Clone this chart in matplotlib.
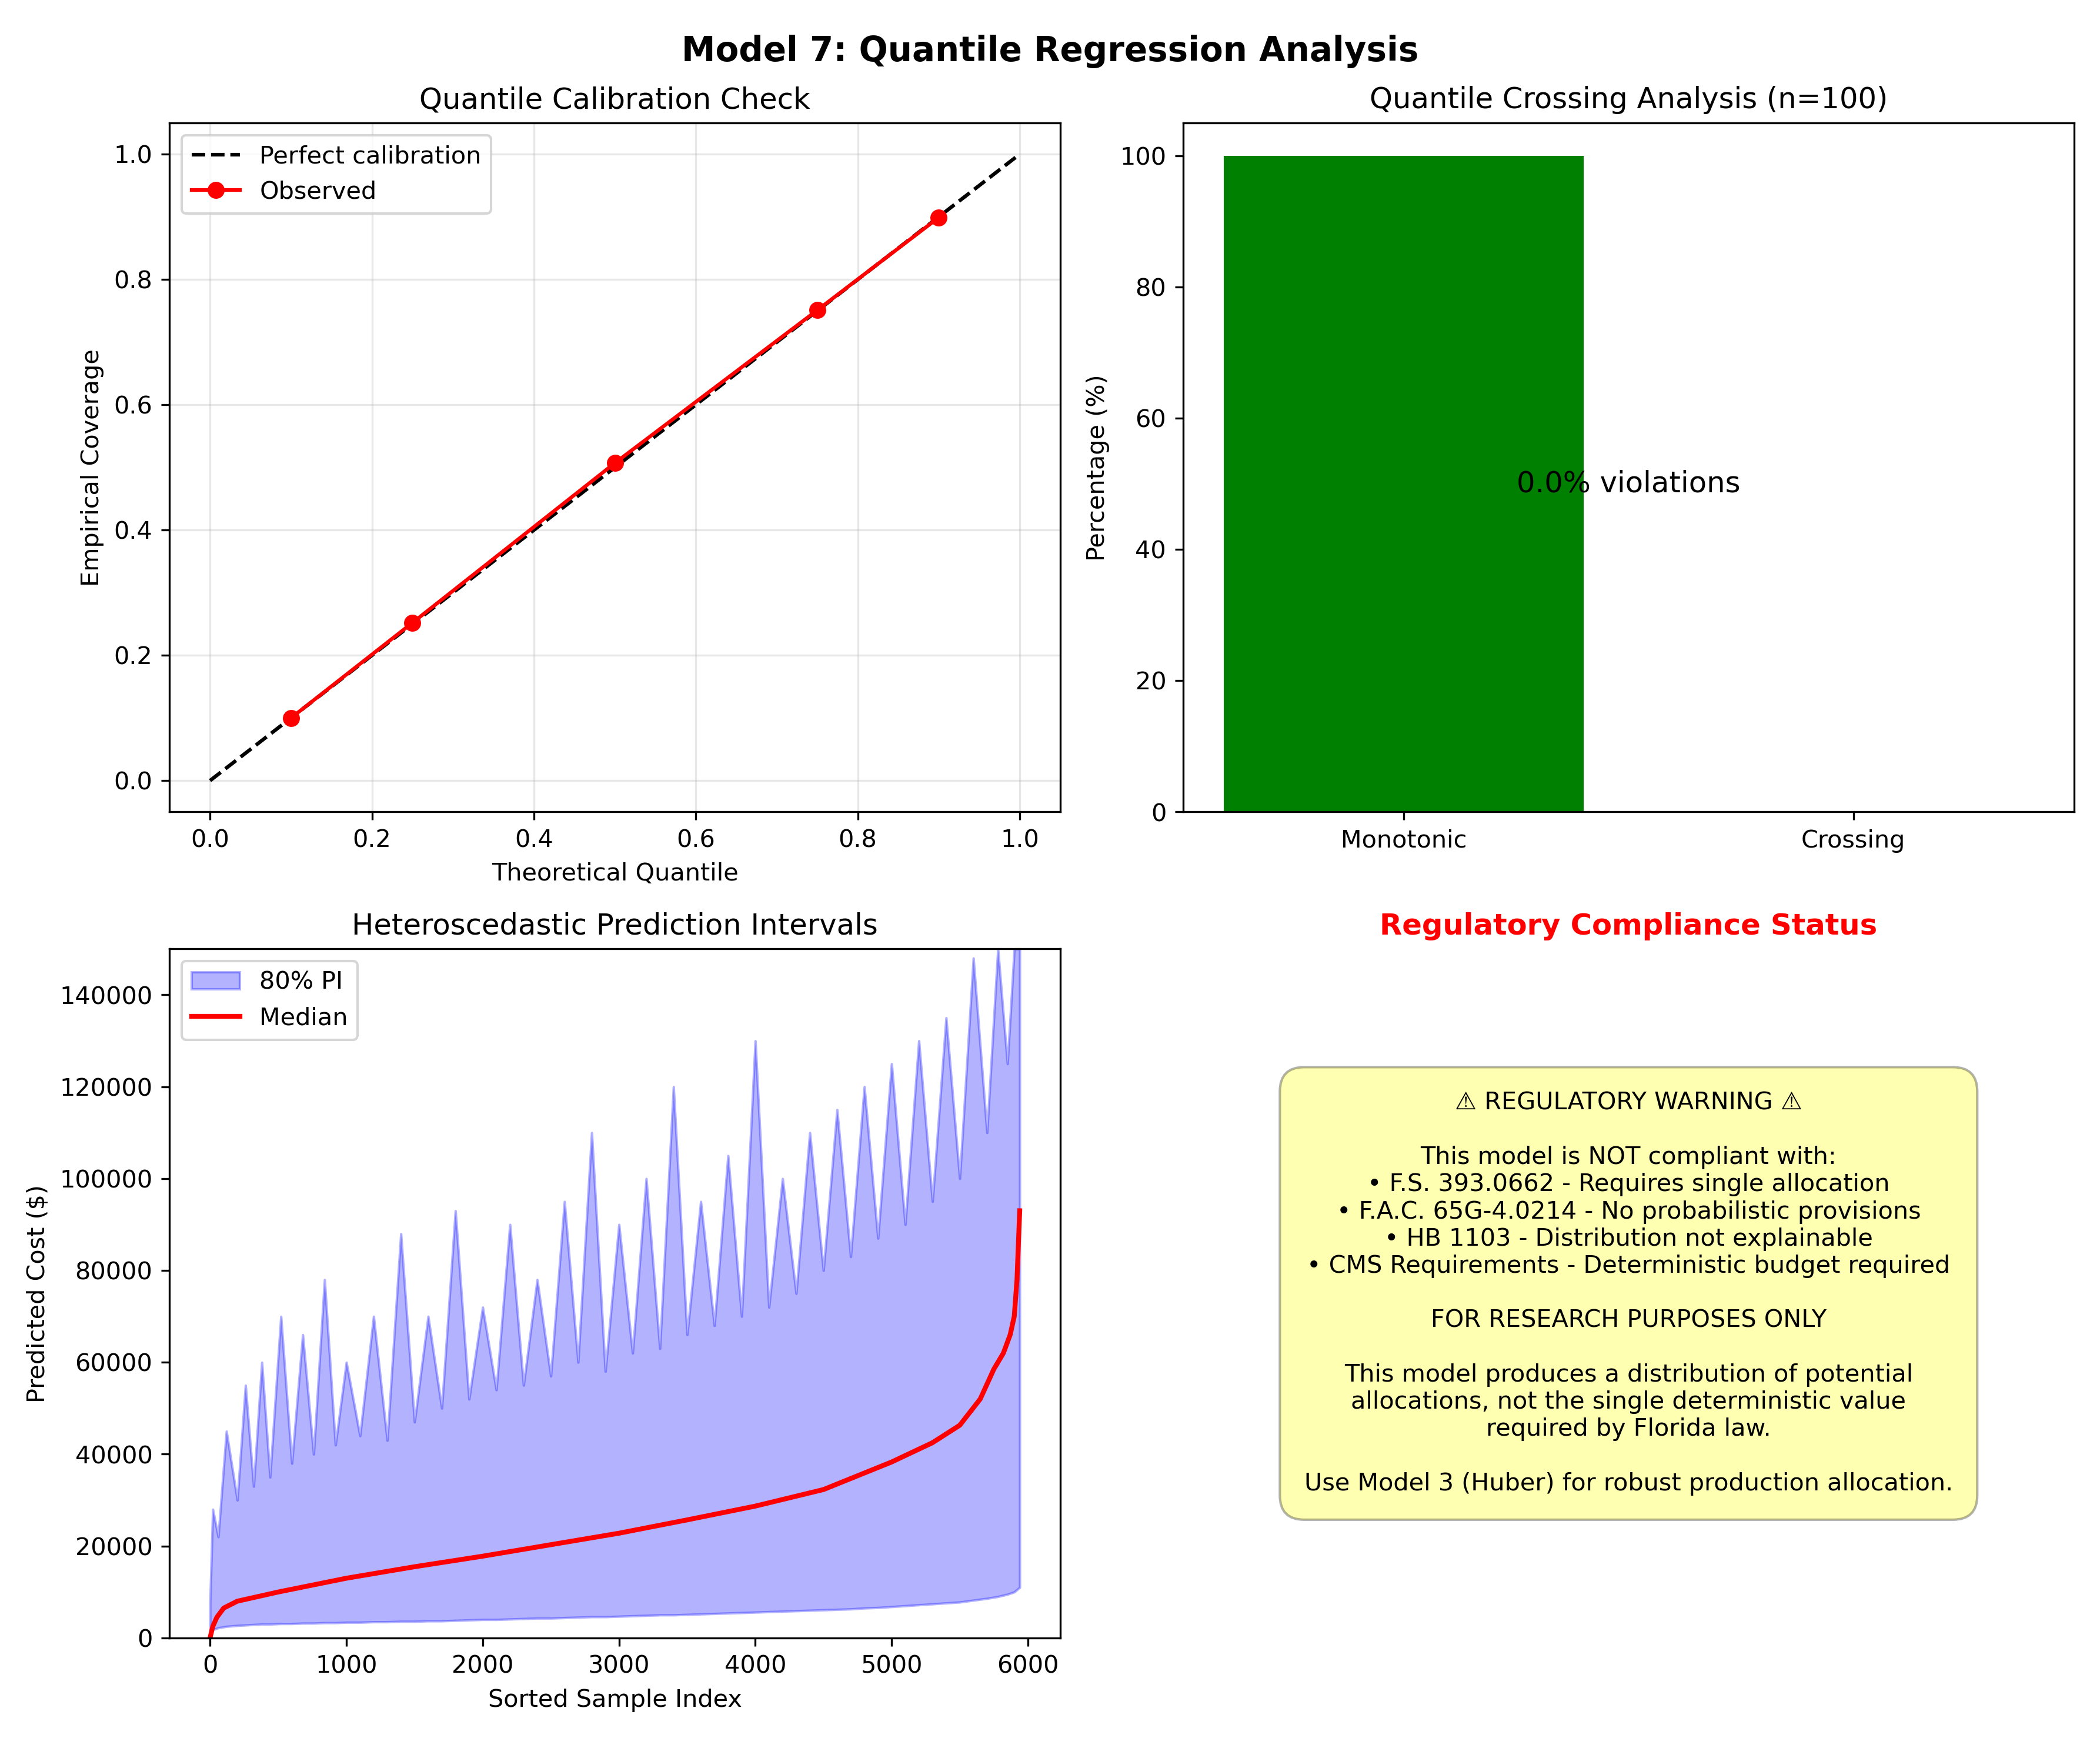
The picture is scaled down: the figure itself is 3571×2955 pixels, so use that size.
import matplotlib
matplotlib.use("Agg")
import matplotlib.pyplot as plt
import numpy as np

quantiles = [0.1, 0.25, 0.5, 0.75, 0.9]
coverage = [0.10, 0.252, 0.507, 0.751, 0.899]

cross_labels = ["Monotonic", "Crossing"]
cross_vals = [100.0, 0.0]

pi_idx = [0, 20, 60, 120, 200, 260, 320, 380, 440, 520, 600, 680, 760, 840, 920, 1000, 1100, 1200, 1300,
          1400, 1500, 1600, 1700, 1800, 1900, 2000, 2100, 2200, 2300, 2400, 2500, 2600, 2700, 2800, 2900,
          3000, 3100, 3200, 3300, 3400, 3500, 3600, 3700, 3800, 3900, 4000, 4100, 4200, 4300, 4400, 4500,
          4600, 4700, 4800, 4900, 5000, 5100, 5200, 5300, 5400, 5500, 5600, 5700, 5780, 5850, 5900, 5940]
pi_upper = [8000, 28000, 22000, 45000, 30000, 55000, 33000, 60000, 35000, 70000, 38000, 66000, 40000, 78000,
            42000, 60000, 44000, 70000, 43000, 88000, 47000, 70000, 50000, 93000, 52000, 72000, 54000, 90000,
            55000, 78000, 57000, 95000, 60000, 110000, 58000, 90000, 62000, 100000, 63000, 120000, 66000,
            95000, 68000, 105000, 70000, 130000, 72000, 100000, 75000, 110000, 80000, 115000, 83000, 120000,
            87000, 125000, 90000, 130000, 95000, 135000, 100000, 148000, 110000, 150000, 125000, 150000, 150000]
pi_lower = [1000, 1800, 2200, 2500, 2700, 2800, 2900, 3000, 3000, 3100, 3100, 3200, 3200, 3300, 3300, 3400,
            3400, 3500, 3500, 3600, 3600, 3700, 3700, 3800, 3900, 4000, 4000, 4100, 4200, 4300, 4300, 4400,
            4500, 4600, 4600, 4700, 4800, 4900, 5000, 5000, 5100, 5200, 5300, 5400, 5500, 5600, 5700, 5800,
            5900, 6000, 6100, 6200, 6300, 6500, 6600, 6800, 7000, 7200, 7400, 7600, 7800, 8200, 8600, 9000,
            9500, 10000, 11000]
med_idx = [0, 20, 50, 100, 200, 350, 500, 750, 1000, 1500, 2000, 2500, 3000, 3500, 4000, 4500, 5000, 5300,
           5500, 5650, 5750, 5820, 5870, 5900, 5920, 5940]
med_vals = [0, 2500, 4500, 6500, 8000, 9000, 10000, 11500, 13000, 15500, 17800, 20300, 22800, 25700, 28700,
            32300, 38300, 42500, 46300, 52000, 58500, 62000, 66000, 70000, 78000, 93000]

fig, axes = plt.subplots(2, 2, figsize=(12, 9.93), dpi=297.6)
fig.suptitle("Model 7: Quantile Regression Analysis", fontsize=14, fontweight="bold")

ax = axes[0, 0]
ax.plot([0, 1], [0, 1], "k--", label="Perfect calibration")
ax.plot(quantiles, coverage, "ro-", label="Observed")
ax.set_xlabel("Theoretical Quantile")
ax.set_ylabel("Empirical Coverage")
ax.set_title("Quantile Calibration Check")
ax.legend(loc="upper left")
ax.grid(True, alpha=0.3)

ax = axes[0, 1]
ax.bar(cross_labels, cross_vals, color=["green", "red"])
ax.set_ylabel("Percentage (%)")
ax.set_title("Quantile Crossing Analysis (n=100)")
ax.text(0.5, 50, f"{cross_vals[1]:.1f}% violations", ha="center", va="center", fontsize=12)

ax = axes[1, 0]
ax.fill_between(pi_idx, pi_lower, pi_upper, color="blue", alpha=0.3, label="80% PI")
ax.plot(med_idx, med_vals, "r-", lw=2, label="Median")
ax.set_ylim(0, 150000)
ax.set_xlabel("Sorted Sample Index")
ax.set_ylabel("Predicted Cost ($)")
ax.set_title("Heteroscedastic Prediction Intervals")
ax.legend(loc="upper left")

ax = axes[1, 1]
ax.axis("off")
ax.set_title("Regulatory Compliance Status", color="red", fontweight="bold", fontsize=12)
msg = ("⚠ REGULATORY WARNING ⚠\n\n"
       "This model is NOT compliant with:\n"
       "• F.S. 393.0662 - Requires single allocation\n"
       "• F.A.C. 65G-4.0214 - No probabilistic provisions\n"
       "• HB 1103 - Distribution not explainable\n"
       "• CMS Requirements - Deterministic budget required\n\n"
       "FOR RESEARCH PURPOSES ONLY\n\n"
       "This model produces a distribution of potential\n"
       "allocations, not the single deterministic value\n"
       "required by Florida law.\n\n"
       "Use Model 3 (Huber) for robust production allocation.")
ax.text(0.5, 0.5, msg, ha="center", va="center", fontsize=10, transform=ax.transAxes,
        bbox=dict(boxstyle="round,pad=1", facecolor="yellow", alpha=0.3))

plt.tight_layout()
fig.savefig("out.png", dpi=297.6)
